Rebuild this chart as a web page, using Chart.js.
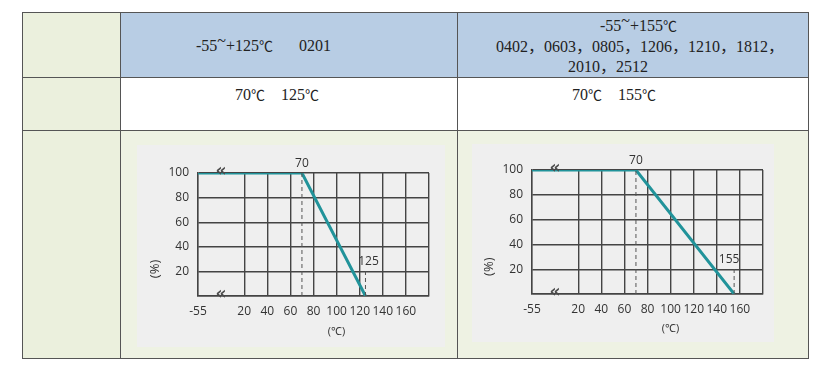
<!DOCTYPE html>
<html>
<head>
<meta charset="utf-8">
<script src="https://cdn.jsdelivr.net/npm/chart.js@4.4.1/dist/chart.umd.min.js"></script>
<style>
  body { margin: 0; background: #fff; width: 826px; height: 378px; position: relative; overflow: hidden; }
  .cell { position: absolute; }
  .hl { position: absolute; height: 1px; background: #555; }
  .vl { position: absolute; width: 1px; background: #555; }
  .txt { position: absolute; white-space: pre; font-family: "Liberation Serif", "Noto Sans CJK SC", serif;
         font-size: 16px; color: #222; line-height: 18px; }
  .tl { position: relative; top: -5px; }
  .deg { font-size: 14px; }
  .box { position: absolute; background: #efefef; }
</style>
</head>
<body>
<!-- table backgrounds -->
<div class="cell" style="left:22px;top:12px;width:98px;height:346px;background:#ebf0dd"></div>
<div class="cell" style="left:120px;top:12px;width:688px;height:65px;background:#b8cde4"></div>
<div class="cell" style="left:120px;top:130px;width:688px;height:228px;background:#eef2e3"></div>

<div class="box" style="left:137px;top:145px;width:308px;height:202px"><canvas id="chartA" width="308" height="202"></canvas></div>
<div class="box" style="left:472px;top:144px;width:302px;height:198px"><canvas id="chartB" width="302" height="198"></canvas></div>

<!-- table lines -->
<div class="hl" style="left:22px;top:12px;width:787px"></div>
<div class="hl" style="left:22px;top:77px;width:787px"></div>
<div class="hl" style="left:22px;top:130px;width:787px"></div>
<div class="hl" style="left:22px;top:358px;width:787px"></div>
<div class="vl" style="left:22px;top:12px;height:347px"></div>
<div class="vl" style="left:120px;top:12px;height:347px"></div>
<div class="vl" style="left:457px;top:12px;height:347px"></div>
<div class="vl" style="left:808px;top:12px;height:347px"></div>

<!-- table text -->
<div class="txt" style="left:196px;top:37px">-55<span class="tl">~</span>+125<span class="deg">℃</span><span style="margin-left:26px">0201</span></div>
<div class="txt" style="left:600px;top:17px">-55<span class="tl">~</span>+155<span class="deg">℃</span></div>
<div class="txt" style="left:496px;top:38px">0402，0603，0805，1206，1210，1812，</div>
<div class="txt" style="left:568px;top:58px">2010，2512</div>
<div class="txt" style="left:235px;top:86px">70<span class="deg">℃</span><span style="margin-left:16px">125</span><span class="deg">℃</span></div>
<div class="txt" style="left:572px;top:86px">70<span class="deg">℃</span><span style="margin-left:16px">155</span><span class="deg">℃</span></div>

<script>
// derating curves: temperature (℃) vs rated load (%)
const tempsA = [-55, 70, 125];
const loadA = [100, 100, 0];
const tempsB = [-55, 70, 155];
const loadB = [100, 100, 0];

const kneeTemp = 70;
const limitA = 125;
const limitB = 155;

// tick labels
const xTickTemps = [-55, 20, 40, 60, 80, 100, 120, 140, 160, 180];
const yTickVals = [0, 20, 40, 60, 80, 100];

// the x axis is broken between -55 and 20, so -55 sits one step left of 20
const BREAK_AT = -20;
function xPos(t) { return t < 0 ? BREAK_AT : t; }

const gridColor = '#444';
const tealColor = '#21939a';
const textColor = '#333';
const tickFont = { family: 'Open Sans', size: 12 };

const derateMarks = {
    id: 'derateMarks',
    afterDatasetsDraw(chart, args, opts) {
        const ctx = chart.ctx;
        const xs = chart.scales.x, ys = chart.scales.y;
        ctx.save();
        ctx.fillStyle = textColor;
        ctx.textAlign = 'center';
        ctx.textBaseline = 'middle';
        ctx.font = '12px "Open Sans"';
        ctx.fillText(String(kneeTemp), xs.getPixelForValue(kneeTemp), ys.getPixelForValue(100) - 9);
        ctx.fillText(String(opts.limit), xs.getPixelForValue(opts.limit) + opts.limitShift, ys.getPixelForValue(20) - 10);
        ctx.font = '11px "Open Sans"';
        ctx.fillText('(℃)', xs.getPixelForValue(100), ys.getPixelForValue(0) + opts.unitDrop);
        // break marks
        ctx.font = 'bold 17px "DejaVu Sans"';
        ctx.fillStyle = '#4a4a4a';
        ctx.fillText('«', xs.getPixelForValue(0), ys.getPixelForValue(100) - 1);
        ctx.fillText('«', xs.getPixelForValue(0), ys.getPixelForValue(0) - 1);
        // y unit
        ctx.fillStyle = textColor;
        ctx.translate(chart.chartArea.left - 43, ys.getPixelForValue(opts.unitY));
        ctx.rotate(-Math.PI / 2);
        ctx.font = '13px "Open Sans"';
        ctx.fillText('(%)', 0, 0);
        ctx.restore();
    }
};

function makeChart(id, temps, load, limit, pad, marks) {
    const curve = temps.map((t, i) => ({ x: xPos(t), y: load[i] }));
    new Chart(document.getElementById(id), {
        type: 'scatter',
        data: {
            datasets: [
                { data: [{ x: kneeTemp, y: 0 }, { x: kneeTemp, y: 100 }], showLine: true, borderColor: '#555',
                  borderWidth: 1, borderDash: [4, 3], pointRadius: 0 },
                { data: [{ x: limit, y: 0 }, { x: limit, y: 20 }], showLine: true, borderColor: '#555',
                  borderWidth: 1, borderDash: [4, 3], pointRadius: 0 },
                { data: curve, showLine: true, borderColor: tealColor, borderWidth: 3, pointRadius: 0 }
            ]
        },
        options: {
            responsive: false,
            devicePixelRatio: 1,
            animation: false,
            layout: { padding: pad },
            plugins: { legend: { display: false }, tooltip: { enabled: false }, derateMarks: marks },
            scales: {
                x: {
                    type: 'linear', min: BREAK_AT, max: 180,
                    afterBuildTicks: s => { s.ticks = xTickTemps.map(t => ({ value: xPos(t) })); },
                    afterFit: s => { s.height = 30; },
                    ticks: {
                        font: tickFont, color: textColor, padding: 8, maxRotation: 0, autoSkip: false,
                        callback: (v, i) => xTickTemps[i] === 180 ? '' : String(xTickTemps[i])
                    },
                    grid: { color: gridColor, lineWidth: 1.4, drawTicks: false },
                    border: { color: gridColor, width: 1.4 }
                },
                y: {
                    min: 0, max: 100,
                    afterBuildTicks: s => { s.ticks = yTickVals.map(v => ({ value: v })); },
                    afterFit: s => { s.width = 40; },
                    ticks: {
                        font: tickFont, color: textColor, padding: 9,
                        callback: v => v === 0 ? '' : String(v)
                    },
                    grid: { color: gridColor, lineWidth: 1.4, drawTicks: false },
                    border: { color: gridColor, width: 1.4 }
                }
            }
        },
        plugins: [derateMarks]
    });
}

makeChart('chartA', tempsA, loadA, limitA,
    { left: 21, right: 16, top: 28, bottom: 21 },
    { limit: limitA, limitShift: 3, unitDrop: 36, unitY: 22 });
makeChart('chartB', tempsB, loadB, limitB,
    { left: 20, right: 11, top: 26, bottom: 18 },
    { limit: limitB, limitShift: -5, unitDrop: 35, unitY: 22 });
</script>
</body>
</html>
